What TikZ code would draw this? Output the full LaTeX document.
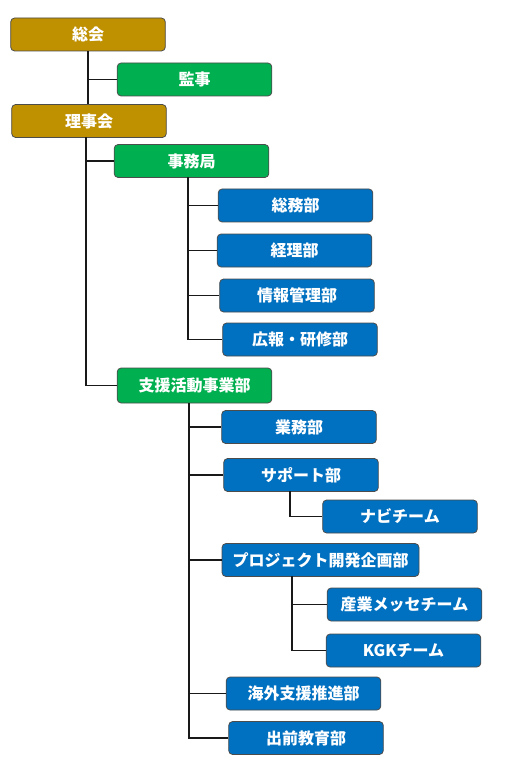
\documentclass[tikz,border=0pt]{standalone}
\usepackage{fontspec}
\newfontfamily\jp{Noto Sans CJK JP}
\usepackage{tikz}
\usetikzlibrary{positioning,calc}

\definecolor{kaigold}{HTML}{BF9000}
\definecolor{kyokugreen}{HTML}{00B050}
\definecolor{bublue}{HTML}{0070C0}

\tikzset{
    box/.style={rounded corners=3pt, draw=black!70, line width=0.6pt, text=white,
        font=\jp\bfseries\fontsize{12pt}{13pt}\selectfont,
        minimum width=116pt, minimum height=24.75pt, inner sep=0pt},
    kaigi/.style={box, fill=kaigold},
    kyoku/.style={box, fill=kyokugreen},
    bu/.style={box, fill=bublue},
    link/.style={line width=1pt, black!90}
}

\begin{document}
\begin{tikzpicture}[x=0.75pt,y=-0.75pt]
            \useasboundingbox (0,0) rectangle (511,777);
            \node[kaigi] (sokai) at (88,34.5) {総会};
            \node[kyoku] (kanji) at (194.5,79.5) {監事};
            \node[kaigi] (rijikai) at (89,121) {理事会};
            \node[kyoku] (jimu) at (191.5,161) {事務局};
            \node[kyoku, minimum height=26.25pt] (shien) at (194.5,385.5) {支援活動事業部};
            % 部とチーム
            \foreach \name/\x/\y/\txt in {somu/295.5/205.5/総務部, keiri/294.5/250.5/経理部,
                joho/297/295.5/情報管理部, koho/300/339.5/広報・研修部,
                gyomu/299/427/業務部, support/301/475/サポート部, navi/400/516.5/ナビチーム,
                messe/404.5/604.5/産業メッセチーム, kgk/403.5/650.5/KGKチーム,
                kaigai/303.5/693.5/海外支援推進部, demae/306/738/出前教育部} {
                \node[bu] (\name) at (\x,\y) {\txt};
            }
            \node[bu, minimum width=147.75pt] (project) at (320.5,560) {プロジェクト開発企画部};
            % 線
            \draw[link] (sokai.south) -- (rijikai.north -| sokai.south);
            \draw[link] (kanji.west) -- (kanji.west -| sokai.south);
            \coordinate (rijiroot) at (86,137);
            \draw[link] (rijiroot) |- (shien.west);
            \draw[link] (rijiroot |- jimu.west) -- (jimu.west);
            \coordinate (jimuroot) at (188,177);
            \draw[link] (jimuroot) |- (koho.west);
            \foreach \name in {somu, keiri, joho} {
                \draw[link] (jimuroot |- \name.west) -- (\name.west);
            }
            \coordinate (shienroot) at (189,403);
            \draw[link] (shienroot) |- (demae.west);
            \foreach \name in {gyomu, support, project, kaigai} {
                \draw[link] (shienroot |- \name.west) -- (\name.west);
            }
            \coordinate (supportroot) at (290,491);
            \draw[link] (supportroot) |- (navi.west);
            \coordinate (projroot) at (292,576);
            \draw[link] (projroot) |- (kgk.west);
            \draw[link] (projroot |- messe.west) -- (messe.west);
        \end{tikzpicture}
\end{document}
